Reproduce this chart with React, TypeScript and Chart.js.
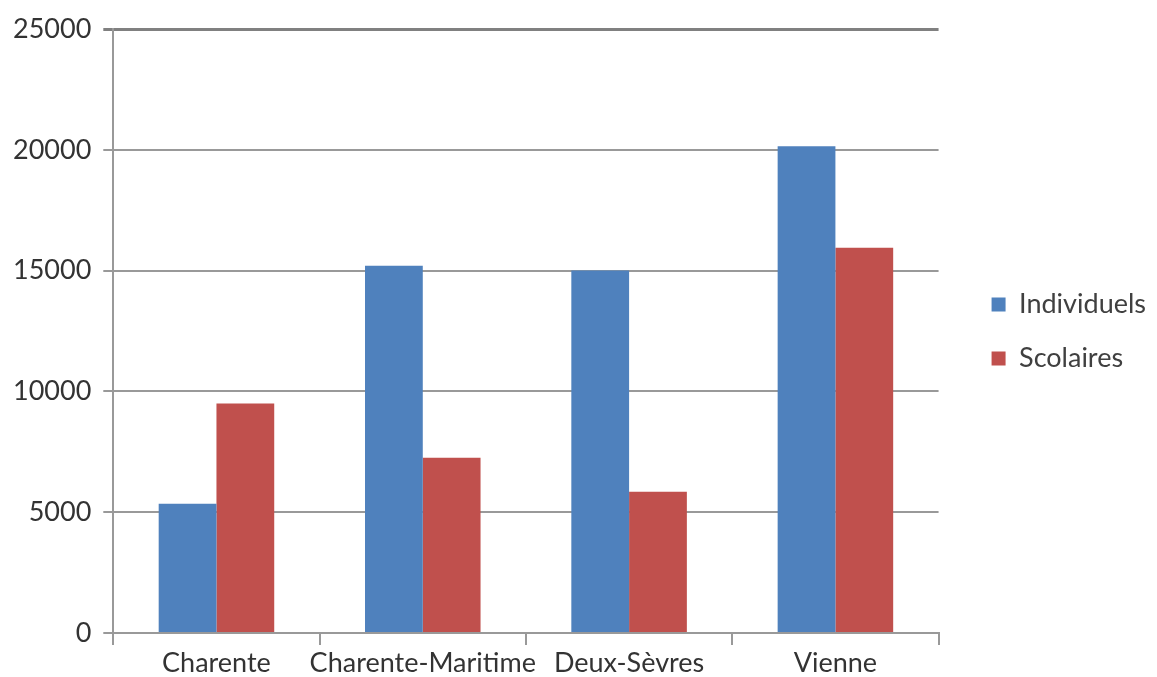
import React, { useEffect, useRef } from "react";
import { Chart, registerables } from "chart.js";

Chart.register(...registerables);

const categories = ["Charente", "Charente-Maritime", "Deux-Sèvres", "Vienne"];
const individuels = [5350, 15200, 15000, 20150];
const scolaires = [9500, 7250, 5850, 15950];
const seriesNames = ["Individuels", "Scolaires"];
const yMax = 25000;
const yStep = 5000;

const FONT = "Lato, 'Open Sans', sans-serif";

export default function App() {
  const ref = useRef<HTMLCanvasElement | null>(null);
  useEffect(() => {
    document.body.style.margin = "0";
    const chart = new Chart(ref.current as HTMLCanvasElement, {
      type: "bar",
      data: {
        labels: categories,
        datasets: [
          {
            label: seriesNames[0],
            data: individuels,
            backgroundColor: "#4F81BD",
            borderWidth: 0,
            barPercentage: 1,
            categoryPercentage: 0.56,
          },
          {
            label: seriesNames[1],
            data: scolaires,
            backgroundColor: "#C0504D",
            borderWidth: 0,
            barPercentage: 1,
            categoryPercentage: 0.56,
          },
        ],
      },
      options: {
        animation: false,
        responsive: false,
        maintainAspectRatio: false,
        layout: { padding: { left: 1, top: 29, right: 1, bottom: -5 } },
        plugins: {
          tooltip: { enabled: false },
          legend: {
            position: "right",
            align: "start",
            title: {
              display: true,
              text: " ",
              font: { size: 10, lineHeight: 1 },
              padding: { top: 225, bottom: 0 },
            },
            labels: {
              boxWidth: 14,
              boxHeight: 14,
              padding: 27,
              color: "#404040",
              font: { family: FONT, size: 27 },
            },
          },
        },
        scales: {
          x: {
            grid: {
              display: true,
              drawOnChartArea: false,
              drawTicks: true,
              tickLength: 12,
              color: "#999999",
              lineWidth: 2,
              offset: true,
            },
            border: { display: true, color: "#999999", width: 2 },
            ticks: {
              color: "#333333",
              font: { family: FONT, size: 27, lineHeight: 1 },
              padding: 5,
              maxRotation: 0,
              autoSkip: false,
            },
          },
          y: {
            min: 0,
            max: yMax,
            ticks: {
              stepSize: yStep,
              color: "#333333",
              font: { family: FONT, size: 27 },
              padding: 12,
              callback: (v: any) => String(v),
            },
            grid: {
              color: (ctx: any) => (ctx.tick && ctx.tick.value === yMax ? "#808080" : "#999999"),
              lineWidth: (ctx: any) => (ctx.tick && ctx.tick.value === yMax ? 3 : 2),
              tickLength: 10,
              drawTicks: true,
            },
            border: { display: true, color: "#999999", width: 2 },
          },
          y2: {
            position: "right",
            display: true,
            grid: { display: false, drawOnChartArea: false },
            ticks: { display: false },
            border: { display: false },
            afterFit: (s: any) => {
              s.width = 26;
            },
          },
        },
      },
    } as any);
    return () => chart.destroy();
  }, []);
  return (
    <div style={{ position: "absolute", left: 0, top: 0, width: 1157, height: 677, background: "#fff" }}>
      <canvas ref={ref} width={1157} height={677} style={{ width: 1157, height: 677 }} />
    </div>
  );
}
